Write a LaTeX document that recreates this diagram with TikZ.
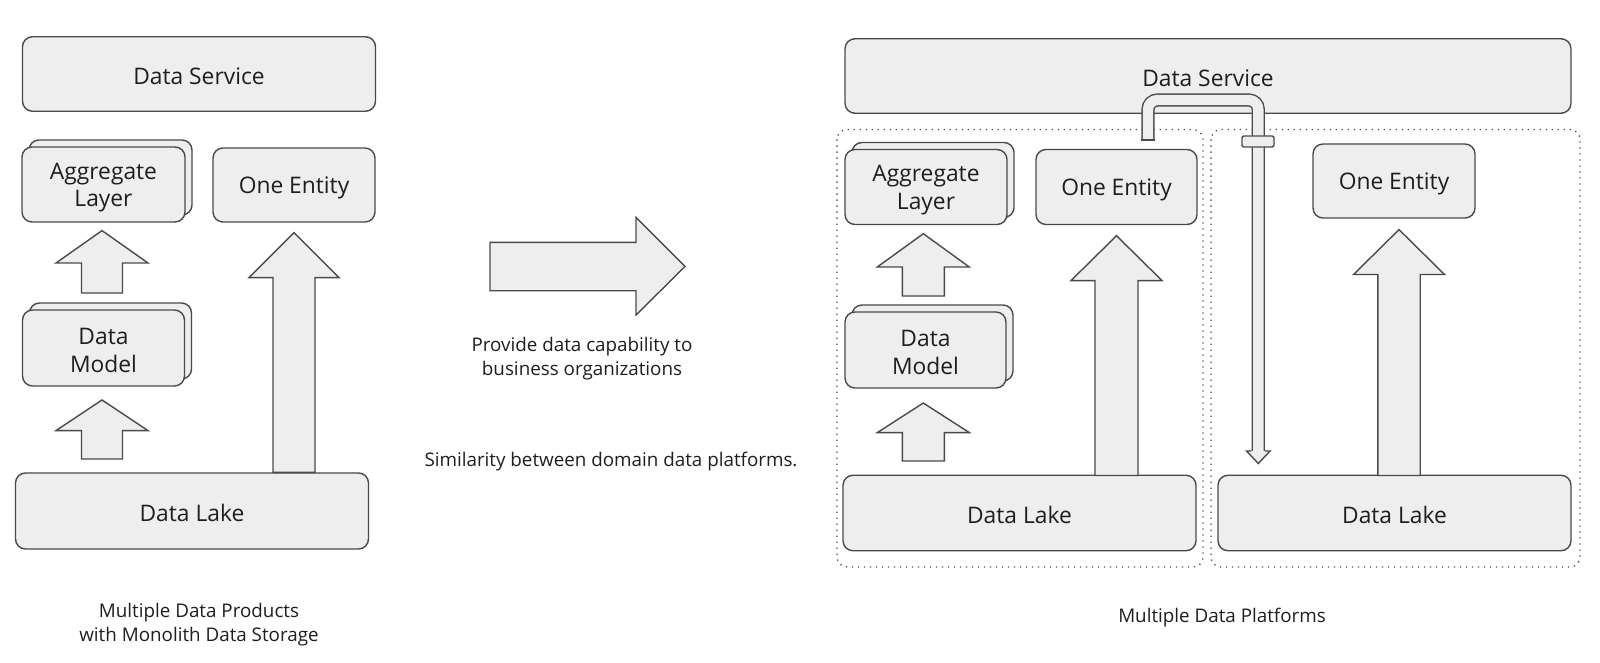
\documentclass[tikz,border=0pt]{standalone}
\usepackage{fontspec}
\setmainfont{Open Sans}
\usetikzlibrary{shadows}

\definecolor{boxfill}{HTML}{EEEEEE}
\definecolor{boxline}{HTML}{4A4A4A}
\definecolor{textcol}{HTML}{1E1E1E}

% fixed line boxes, so that text sits as in the drawing
\newcommand{\boxstrut}{\rule[-1pt]{0pt}{23pt}}
\newcommand{\capstrut}{\rule[-0.8pt]{0pt}{19.8pt}}

% up arrow: centre x, top, shoulder, bottom, head half width, shaft half width
\newcommand{\upblock}[6]{%
    \draw[blockarrow] (#1-#6,#4) -- (#1-#6,#3) -- (#1-#5,#3) -- (#1,#2)
        -- (#1+#5,#3) -- (#1+#6,#3) -- (#1+#6,#4) -- cycle;}

\begin{document}
\begin{tikzpicture}[
    x=1pt, y=-1pt,
    box/.style={
        draw=boxline,
        fill=boxfill,
        line width=1.4pt,
        rounded corners=10pt,
        align=center,
        anchor=center,
        inner sep=0pt,
        text=textcol,
        font=\fontsize{22.8}{27.5}\selectfont,
        },
    stackbox/.style={
        box,
        copy shadow={shadow xshift=7pt, shadow yshift=7pt},
        },
    blockarrow/.style={
        draw=boxline,
        fill=boxfill,
        line width=1.4pt,
        line join=miter,
        },
    platform/.style={
        draw=boxline,
        line width=1.3pt,
        dash pattern=on 1.3pt off 4.7pt,
        rounded corners=10pt,
        },
    caption/.style={
        align=center,
        inner sep=0pt,
        text=textcol,
        font=\fontsize{18.8}{23.8}\selectfont,
        },
]

\useasboundingbox (0,0) rectangle (1600,663);

% left: monolith storage
\node[box, minimum width=353pt, minimum height=74.5pt] (dsL) at (199,74) {Data Service\boxstrut};
\node[stackbox, minimum width=163pt, minimum height=75pt] (aggL) at (103.5,184.5) {\boxstrut Aggregate\\Layer\boxstrut};
\node[box, minimum width=162pt, minimum height=74pt] (oeL) at (294,185) {One Entity\boxstrut};
\node[stackbox, minimum width=162pt, minimum height=76pt] (dmL) at (103.5,348) {\boxstrut Data\\Model\boxstrut};
\node[box, minimum width=353pt, minimum height=76pt] (dlL) at (192,511) {Data Lake\boxstrut};

\upblock{102}{230.6}{263}{293}{46}{20.5}
\upblock{102}{400}{430.6}{459}{46}{20.5}
\upblock{294}{232.6}{277.6}{472.4}{45}{21}

\node[caption] (capL) at (199,622.2) {\capstrut Multiple Data Products\\with Monolith Data Storage\capstrut};

% middle
\draw[blockarrow] (490,242.3) -- (636,242.3) -- (636,217.3) -- (685,266.5)
    -- (636,315) -- (636,290.7) -- (490,290.7) -- cycle;
\node[caption] (provide) at (582,356.1) {\capstrut Provide data capability to\\business organizations\capstrut};
\node[caption] (similar) at (611,458.9) {Similarity between domain data platforms.\capstrut};

% right: several platforms
\draw[platform] (837,129.5) rectangle (1203,567);
\draw[platform] (1211,129.5) rectangle (1580,567);

\node[box, minimum width=726pt, minimum height=74.5pt] (dsR) at (1208,76) {Data Service\boxstrut};
\node[stackbox, minimum width=162pt, minimum height=75pt] (aggR) at (926,187) {\boxstrut Aggregate\\Layer\boxstrut};
\node[box, minimum width=161pt, minimum height=75pt] (oeM) at (1116.5,187) {One Entity\boxstrut};
\node[stackbox, minimum width=161pt, minimum height=76pt] (dmR) at (925.5,350) {\boxstrut Data\\Model\boxstrut};
\node[box, minimum width=353pt, minimum height=75.5pt] (dlM) at (1019.5,513) {Data Lake\boxstrut};
\node[box, minimum width=162pt, minimum height=74pt] (oeR) at (1394,181) {One Entity\boxstrut};
\node[box, minimum width=353pt, minimum height=75.5pt] (dlR) at (1394.5,513) {Data Lake\boxstrut};

\upblock{923.3}{233.7}{267}{296}{46}{21}
\upblock{923.3}{403}{432.6}{461}{46}{21}
\upblock{1116.5}{235.7}{280.6}{475.5}{45.5}{21.5}
\upblock{1399}{229.6}{274.5}{475.5}{45.5}{21.2}

\node[caption] (capR) at (1222,615.7) {Multiple Data Platforms\capstrut};

% pipe between the platforms
\draw[line width=1.4pt, draw=boxline, double=boxfill, double distance=10.4pt, rounded corners=9.5pt]
    (1148,140) -- (1148,100) -- (1258.3,100) -- (1258.3,451);
\draw[boxline, line width=1.4pt] (1141.1,140) -- (1154.9,140);
\filldraw[blockarrow] (1251.4,451) -- (1246.5,451) -- (1258.3,463.5) -- (1270.1,451) -- (1265.2,451);
\draw[blockarrow, rounded corners=2pt] (1242,136) rectangle (1274,147);

\end{tikzpicture}
\end{document}
